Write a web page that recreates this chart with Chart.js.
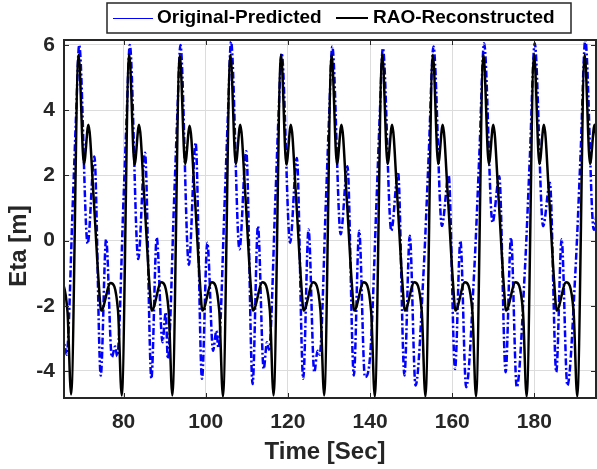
<!DOCTYPE html>
<html>
<head>
<meta charset="UTF-8">
<title>Eta vs Time</title>
<script src="https://cdn.jsdelivr.net/npm/chart.js"></script>
<style>
  html, body { margin: 0; padding: 0; background: #fff; }
  canvas { display: block; }
</style>
</head>
<body>
<canvas id="etaChart" width="597" height="469"></canvas>
<script>
  const xTicks = [80, 100, 120, 140, 160, 180];
  const yTicks = [-4, -2, 0, 2, 4, 6];

  // RAO-Reconstructed (black, solid)
  const raoTime = [
    62.23, 64.53, 66.33, 67.23,
    69.05, 70.35, 71.45, 72.65, 73.95, 74.55, 76.85, 78.65, 79.55,
    81.37, 82.67, 83.77, 84.97, 86.27, 86.87, 89.17, 90.97, 91.87,
    93.69, 94.99, 96.09, 97.29, 98.59, 99.19, 101.49, 103.29, 104.19,
    106.01, 107.31, 108.41, 109.61, 110.91, 111.51, 113.81, 115.61, 116.51,
    118.33, 119.63, 120.73, 121.93, 123.23, 123.83, 126.13, 127.93, 128.83,
    130.65, 131.95, 133.05, 134.25, 135.55, 136.15, 138.45, 140.25, 141.15,
    142.97, 144.27, 145.37, 146.57, 147.87, 148.47, 150.77, 152.57, 153.47,
    155.29, 156.59, 157.69, 158.89, 160.19, 160.79, 163.09, 164.89, 165.79,
    167.61, 168.91, 170.01, 171.21, 172.51, 173.11, 175.41, 177.21, 178.11,
    179.93, 181.23, 182.33, 183.53, 184.83, 185.43, 187.73, 189.53, 190.43,
    192.25, 193.55, 194.65, 195.85, 197.15
  ];
  const raoEta = [
    -2.15, -1.28, -2.15, -4.72,
    5.70, 2.35, 3.55, 1.45, -1.30, -2.15, -1.30, -2.15, -4.75,
    5.72, 2.33, 3.55, 1.45, -1.30, -2.15, -1.28, -2.15, -4.75,
    5.68, 2.35, 3.52, 1.45, -1.30, -2.15, -1.28, -2.15, -4.78,
    5.70, 2.35, 3.55, 1.45, -1.30, -2.15, -1.28, -2.15, -4.75,
    5.70, 2.33, 3.55, 1.45, -1.30, -2.15, -1.28, -2.15, -4.75,
    5.70, 2.35, 3.55, 1.45, -1.30, -2.15, -1.28, -2.15, -4.78,
    5.70, 2.35, 3.55, 1.45, -1.30, -2.15, -1.28, -2.15, -4.78,
    5.70, 2.35, 3.55, 1.45, -1.30, -2.15, -1.28, -2.15, -4.78,
    5.70, 2.35, 3.55, 1.45, -1.30, -2.15, -1.28, -2.15, -4.78,
    5.70, 2.35, 3.55, 1.45, -1.30, -2.15, -1.28, -2.15, -4.78,
    5.70, 2.35, 3.55, 1.45, -1.30
  ];

  // Original-Predicted (blue, dash-dot)
  const origTime = [
    63.43, 64.83, 65.63, 66.13, 67.68, 68.43,
    69.20, 71.25, 72.90, 74.45, 75.75, 77.15, 77.95, 78.45, 80.00, 80.75,
    81.52, 83.57, 85.22, 86.77, 88.07, 89.47, 90.27, 90.77, 92.32, 93.07,
    93.84, 95.89, 97.54, 99.09, 100.39, 101.79, 102.59, 103.09, 104.64, 105.39,
    106.16, 108.21, 109.86, 111.41, 112.71, 114.11, 114.91, 115.41, 116.96, 117.71,
    118.48, 120.53, 122.18, 123.73, 125.03, 126.43, 127.23, 127.73, 129.28, 130.03,
    130.80, 132.85, 134.50, 136.05, 137.35, 138.75, 140.10, 141.60, 142.35,
    143.12, 145.17, 146.82, 148.37, 149.67, 151.07, 153.07, 154.27,
    155.44, 157.49, 159.14, 160.69, 161.99, 163.39, 165.39, 166.59,
    167.76, 169.81, 171.46, 173.01, 174.31, 175.71, 177.71, 178.91,
    180.08, 182.13, 183.78, 185.33, 186.63, 188.03, 190.03, 191.23,
    192.40, 194.45, 196.10, 197.65
  ];
  const origEta = [
    0.00, -3.50, -3.20, -3.50, 1.30, 3.80,
    6.00, -0.10, 2.58, -4.14, 0.04, -3.58, -3.25, -3.55, 1.30, 3.80,
    6.00, -0.57, 2.69, -4.24, 0.09, -3.12, -2.20, -3.63, 1.30, 3.80,
    6.00, -0.75, 3.00, -4.24, -0.07, -3.38, -2.77, -3.30, 1.30, 3.80,
    6.10, -0.27, 2.74, -4.40, 0.44, -3.94, -3.12, -3.35, 1.30, 3.80,
    5.75, -0.07, 2.53, -4.24, 0.34, -4.04, -3.38, -3.50, 1.30, 3.80,
    5.95, 0.19, 2.28, -4.14, 0.30, -4.19, -3.40, 1.30, 3.80,
    5.90, 0.30, 2.10, -4.14, 0.15, -4.45, -0.85, 2.60,
    5.95, 0.45, 2.00, -3.94, -0.01, -4.50, -0.85, 2.60,
    6.05, 0.55, 1.97, -4.04, 0.09, -4.50, -0.85, 2.60,
    6.05, 0.44, 1.77, -4.04, 0.04, -4.45, -0.85, 2.60,
    6.15, 0.33, 1.70, -4.00
  ];

  const FONT = '"Liberation Sans", Arial, Helvetica, sans-serif';
  const INK = '#262626';

  const toPoints = (t, v) => t.map((x, i) => ({ x, y: v[i] }));

  // axes box with inward ticks, axis titles, legend
  const decorations = {
    id: 'decorations',
    afterDatasetsDraw(chart) {
      const { ctx, chartArea: a, scales: { x, y } } = chart;
      ctx.save();
      ctx.strokeStyle = INK;
      ctx.lineWidth = 1;
      ctx.beginPath();
      xTicks.forEach(v => {
        const px = Math.round(x.getPixelForValue(v)) + 0.5;
        ctx.moveTo(px, a.bottom); ctx.lineTo(px, a.bottom - 5);
        ctx.moveTo(px, a.top); ctx.lineTo(px, a.top + 5);
      });
      yTicks.forEach(v => {
        const py = Math.round(y.getPixelForValue(v)) + 0.5;
        ctx.moveTo(a.left, py); ctx.lineTo(a.left + 5, py);
        ctx.moveTo(a.right, py); ctx.lineTo(a.right - 5, py);
      });
      ctx.stroke();
      ctx.lineWidth = 2;
      ctx.strokeRect(a.left, a.top, a.right - a.left, a.bottom - a.top);
      ctx.restore();
    },
    afterDraw(chart) {
      const { ctx } = chart;
      ctx.save();
      ctx.fillStyle = INK;
      ctx.textBaseline = 'middle';
      ctx.textAlign = 'center';
      ctx.font = 'bold 24px ' + FONT;
      ctx.fillText('Time [Sec]', 325, 452);
      ctx.translate(19, 246);
      ctx.rotate(-Math.PI / 2);
      ctx.fillText('Eta [m]', 0, 0);
      ctx.restore();

      // legend
      ctx.save();
      ctx.fillStyle = '#fff';
      ctx.fillRect(107, 3, 464, 30);
      ctx.strokeStyle = INK;
      ctx.lineWidth = 1.5;
      ctx.strokeRect(107, 3, 464, 30);
      ctx.strokeStyle = '#0000ff';
      ctx.lineWidth = 1;
      ctx.beginPath(); ctx.moveTo(113, 18.5); ctx.lineTo(153, 18.5); ctx.stroke();
      ctx.strokeStyle = '#000';
      ctx.lineWidth = 2;
      ctx.beginPath(); ctx.moveTo(336, 18); ctx.lineTo(368, 18); ctx.stroke();
      ctx.fillStyle = '#000';
      ctx.font = 'bold 19px ' + FONT;
      ctx.textBaseline = 'middle';
      ctx.textAlign = 'left';
      ctx.fillText('Original-Predicted', 157, 18);
      ctx.fillText('RAO-Reconstructed', 373, 18);
      ctx.restore();
    }
  };

  new Chart(document.getElementById('etaChart'), {
    type: 'line',
    data: {
      datasets: [
        {
          label: 'RAO-Reconstructed',
          data: toPoints(raoTime, raoEta),
          borderColor: '#000000',
          borderWidth: 2.5,
          cubicInterpolationMode: 'monotone',
          pointRadius: 0,
          fill: false,
          order: 1
        },
        {
          label: 'Original-Predicted',
          data: toPoints(origTime, origEta),
          borderColor: '#0000ff',
          borderWidth: 2.5,
          borderDash: [7, 2.5, 2, 2.5],
          cubicInterpolationMode: 'monotone',
          pointRadius: 0,
          fill: false,
          order: 2
        }
      ]
    },
    options: {
      responsive: false,
      animation: false,
      layout: { padding: { left: 0, right: 1, top: 40, bottom: 0 } },
      plugins: { legend: { display: false }, tooltip: { enabled: false } },
      scales: {
        x: {
          type: 'linear',
          min: 65.5,
          max: 195,
          afterBuildTicks: s => { s.ticks = xTicks.map(v => ({ value: v })); },
          afterFit: s => { s.height = 71; },
          grid: { color: '#dcdcdc', lineWidth: 1, drawTicks: false },
          border: { display: false },
          ticks: {
            color: INK,
            padding: 12,
            maxRotation: 0,
            font: { family: FONT, size: 21, weight: 'bold' }
          }
        },
        y: {
          type: 'linear',
          min: -4.83,
          max: 6.15,
          afterBuildTicks: s => { s.ticks = yTicks.map(v => ({ value: v })); },
          afterFit: s => { s.width = 64; },
          grid: { color: '#dcdcdc', lineWidth: 1, drawTicks: false },
          border: { display: false },
          ticks: {
            color: INK,
            padding: 9,
            font: { family: FONT, size: 21, weight: 'bold' }
          }
        }
      }
    },
    plugins: [decorations]
  });
</script>
</body>
</html>
